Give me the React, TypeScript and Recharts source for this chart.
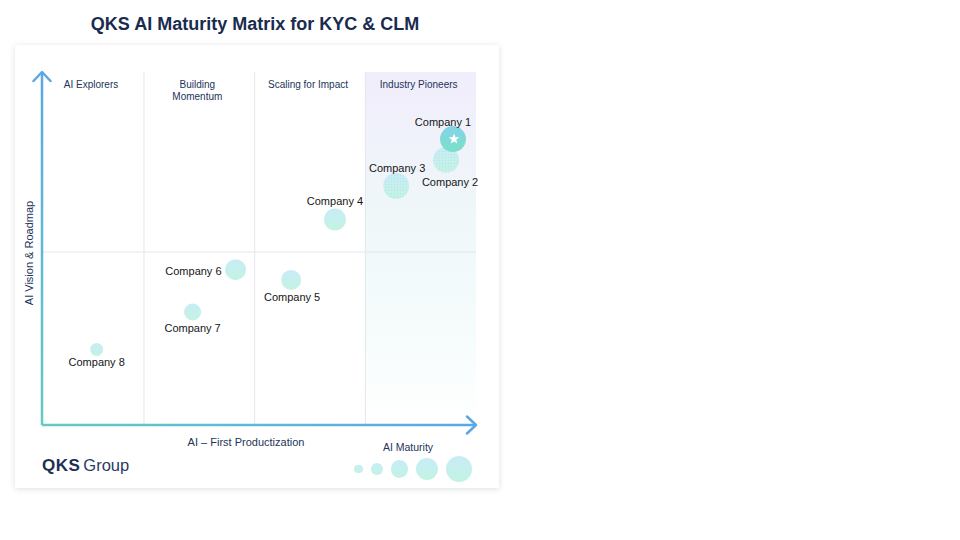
import React from "react";
import {
  ScatterChart,
  Scatter,
  XAxis,
  YAxis,
  ZAxis,
  ReferenceLine,
  ReferenceArea,
} from "recharts";

// companies: x = AI – First Productization, y = AI Vision & Roadmap, z = AI Maturity
const companyNames = ["Company 1", "Company 2", "Company 3", "Company 4", "Company 5", "Company 6", "Company 7", "Company 8"];
const productization = [94.7, 93.1, 81.6, 67.5, 57.4, 44.6, 34.7, 12.6];
const vision = [81.0, 75.1, 67.7, 58.2, 41.1, 44.0, 32.0, 21.4];
const maturity = [88, 88, 88, 63, 52, 58, 38, 22];

// quadrant bands (x boundaries) and the vision split
const columnNames = [["AI Explorers"], ["Building", "Momentum"], ["Scaling for Impact"], ["Industry Pioneers"]];
const columnEdges = [0, 23.5, 49, 74.5, 100];
const visionSplit = 49;

// size legend values
const legendSizes = [10, 20, 38, 63, 88];

const Z_RANGE: [number, number] = [0, 600];
const FONT = "'Liberation Sans', Arial, Helvetica, sans-serif";
const NAVY = "#22345a";

const companies = companyNames.map((name, i) => ({
  name,
  x: productization[i],
  y: vision[i],
  z: maturity[i],
}));

// where each company's name sits relative to its bubble
const labelPlace: Record<string, { dx: number; dy: number; anchor?: "middle" | "end" }> = {
  "Company 1": { dx: -10, dy: -17 },
  "Company 2": { dx: 4, dy: 22 },
  "Company 3": { dx: 1, dy: -18 },
  "Company 4": { dx: 0, dy: -18 },
  "Company 5": { dx: 1, dy: 17 },
  "Company 6": { dx: -14, dy: 1, anchor: "end" },
  "Company 7": { dx: 0, dy: 16 },
  "Company 8": { dx: 0, dy: 13 },
};
const highlighted = "Company 1";
const dotted = ["Company 2", "Company 3"];

function starPoints(cx: number, cy: number, outer: number, inner: number) {
  const pts: string[] = [];
  for (let i = 0; i < 10; i++) {
    const r = i % 2 === 0 ? outer : inner;
    const a = -Math.PI / 2 + (i * Math.PI) / 5;
    pts.push(`${cx + r * Math.cos(a)},${cy + r * Math.sin(a)}`);
  }
  return pts.join(" ");
}

function Bubble(props: any) {
  const { cx, cy, payload } = props;
  const r = props.size != null ? Math.sqrt(props.size / Math.PI) : props.width / 2;
  const name = payload.name;
  const place = labelPlace[name] || { dx: 0, dy: r + 6 };
  const isTop = name === highlighted;
  return (
    <g>
      <circle cx={cx} cy={cy} r={r} fill={isTop ? "url(#bubbleStrong)" : "url(#bubbleSoft)"} />
      {dotted.includes(name) && <circle cx={cx} cy={cy} r={r} fill="url(#dots)" opacity={0.4} />}
      {isTop && <polygon points={starPoints(cx + 1, cy, 5.5, 2.4)} fill="#ffffff" />}
      <text
        x={cx + place.dx}
        y={cy + place.dy}
        dy="0.35em"
        textAnchor={place.anchor || "middle"}
        fontSize={11}
        fontFamily={FONT}
        fill="#161616"
      >
        {name}
      </text>
    </g>
  );
}

function ColumnLabel(props: any) {
  const { viewBox, lines } = props;
  const cx = viewBox.x + viewBox.width / 2 - 2;
  return (
    <text x={cx} y={viewBox.y + 15.5} textAnchor="middle" fontSize={10} fontFamily={FONT} fill={NAVY}>
      {lines.map((line: string, i: number) => (
        <tspan key={line} x={cx} dy={i === 0 ? 0 : 12.5}>
          {line}
        </tspan>
      ))}
    </text>
  );
}

function TextAt({ x, y, size, children, weight, color }: any) {
  const lh = Math.round(size * 1.2);
  return (
    <div
      style={{
        position: "absolute",
        left: x - 200,
        top: y - lh / 2,
        width: 400,
        textAlign: "center",
        fontSize: size,
        lineHeight: `${lh}px`,
        fontFamily: FONT,
        fontWeight: weight || 400,
        color: color || NAVY,
        whiteSpace: "nowrap",
      }}
    >
      {children}
    </div>
  );
}

export default function App() {
  return (
    <div style={{ position: "absolute", left: 0, top: 0, width: 960, height: 540, background: "#ffffff" }}>
      <TextAt x={255} y={24} size={18} weight={700} color="#1a2b50">
        QKS AI Maturity Matrix for KYC &amp; CLM
      </TextAt>

      <div
        style={{
          position: "absolute",
          left: 15,
          top: 45,
          width: 484,
          height: 443,
          background: "#ffffff",
          boxShadow: "0 1px 6px rgba(0,0,0,0.13)",
        }}
      />

      <div style={{ position: "absolute", left: 0, top: 0 }}>
        <ScatterChart width={500} height={500} margin={{ top: 72, right: 24, bottom: 74, left: 41 }}>
          <defs>
            <linearGradient id="axisX" gradientUnits="userSpaceOnUse" x1={42} y1={0} x2={476} y2={0}>
              <stop offset="0%" stopColor="#62cbc2" />
              <stop offset="100%" stopColor="#5aa7e6" />
            </linearGradient>
            <linearGradient id="axisY" gradientUnits="userSpaceOnUse" x1={0} y1={425} x2={0} y2={72}>
              <stop offset="0%" stopColor="#62cbc2" />
              <stop offset="100%" stopColor="#5aa7e6" />
            </linearGradient>
            <linearGradient id="pioneer" x1="0" y1="0" x2="0" y2="1">
              <stop offset="0%" stopColor="#f1edfc" />
              <stop offset="40%" stopColor="#eff7f9" />
              <stop offset="75%" stopColor="#f6fcfc" />
              <stop offset="100%" stopColor="#ffffff" />
            </linearGradient>
            <linearGradient id="bubbleSoft" x1="0" y1="0" x2="0" y2="1">
              <stop offset="0%" stopColor="#c8ecf7" />
              <stop offset="100%" stopColor="#c3f3e2" />
            </linearGradient>
            <linearGradient id="bubbleStrong" x1="0" y1="0" x2="0" y2="1">
              <stop offset="0%" stopColor="#84d3e8" />
              <stop offset="100%" stopColor="#7ae0c6" />
            </linearGradient>
            <pattern id="dots" width={3} height={3} patternUnits="userSpaceOnUse">
              <circle cx={1.5} cy={1.5} r={0.55} fill="#8fcfda" />
            </pattern>
            <marker
              id="arrow"
              viewBox="0 0 14 20"
              markerUnits="userSpaceOnUse"
              markerWidth={14}
              markerHeight={20}
              refX={11}
              refY={10}
              orient="auto-start-reverse"
            >
              <path d="M2 1.5 L11 10 L2 18.5" fill="none" stroke="#5aa7e6" strokeWidth={2.5} strokeLinecap="round" strokeLinejoin="round" />
            </marker>
          </defs>

          <XAxis
            type="number"
            dataKey="x"
            domain={[0, 100]}
            height={1}
            tick={false}
            tickLine={false}
            axisLine={{ stroke: "url(#axisX)", strokeWidth: 2.5, markerEnd: "url(#arrow)" }}
          />
          <YAxis
            type="number"
            dataKey="y"
            domain={[0, 100]}
            width={1}
            tick={false}
            tickLine={false}
            axisLine={{ stroke: "url(#axisY)", strokeWidth: 2.5, markerStart: "url(#arrow)" }}
          />
          <ZAxis type="number" dataKey="z" domain={[0, 100]} range={Z_RANGE} />

          <ReferenceArea
            x1={columnEdges[3]}
            x2={columnEdges[4]}
            y1={0}
            y2={100}
            fill="url(#pioneer)"
            fillOpacity={1}
            stroke="none"
          />
          {columnNames.map((lines, i) => (
            <ReferenceArea
              key={lines.join(" ")}
              x1={columnEdges[i]}
              x2={columnEdges[i + 1]}
              y1={0}
              y2={100}
              fill="none"
              stroke="none"
              label={<ColumnLabel lines={lines} />}
            />
          ))}
          {columnEdges.slice(1, 4).map((edge) => (
            <ReferenceLine key={edge} x={edge} stroke="#e4e6ec" strokeWidth={1} />
          ))}
          <ReferenceLine y={visionSplit} stroke="#e4e6ec" strokeWidth={1} />

          <Scatter
            data={[...companies].reverse()}
            isAnimationActive={false}
            shape={(p: any) => <Bubble {...p} />}
          />
        </ScatterChart>
      </div>

      <div
        style={{
          position: "absolute",
          left: 29 - 100,
          top: 253 - 7,
          width: 200,
          height: 14,
          lineHeight: "14px",
          textAlign: "center",
          transform: "rotate(-90deg)",
          fontSize: 11,
          fontFamily: FONT,
          color: NAVY,
          whiteSpace: "nowrap",
        }}
      >
        AI Vision &amp; Roadmap
      </div>
      <TextAt x={246} y={442} size={11}>
        AI – First Productization
      </TextAt>
      <TextAt x={408} y={447} size={10.5}>
        AI Maturity
      </TextAt>

      <div
        style={{
          position: "absolute",
          left: 42,
          top: 455,
          fontFamily: FONT,
          fontSize: 17,
          lineHeight: "20px",
          color: "#1d2f55",
          whiteSpace: "nowrap",
        }}
      >
        <span style={{ fontWeight: 700, letterSpacing: 0.5 }}>QKS</span>
        <span style={{ marginLeft: 3, fontSize: 16.5, color: "#2a3c62" }}>Group</span>
      </div>

      <div
        style={{
          position: "absolute",
          left: 354,
          top: 456,
          height: 26,
          display: "flex",
          alignItems: "center",
          gap: 8,
        }}
      >
        {legendSizes.map((z) => {
          const r = Math.sqrt(((z / 100) * Z_RANGE[1]) / Math.PI);
          return (
            <span
              key={z}
              style={{
                width: r * 2,
                height: r * 2,
                borderRadius: "50%",
                background: "linear-gradient(#c8ecf7, #c3f3e2)",
                display: "block",
              }}
            />
          );
        })}
      </div>
    </div>
  );
}
